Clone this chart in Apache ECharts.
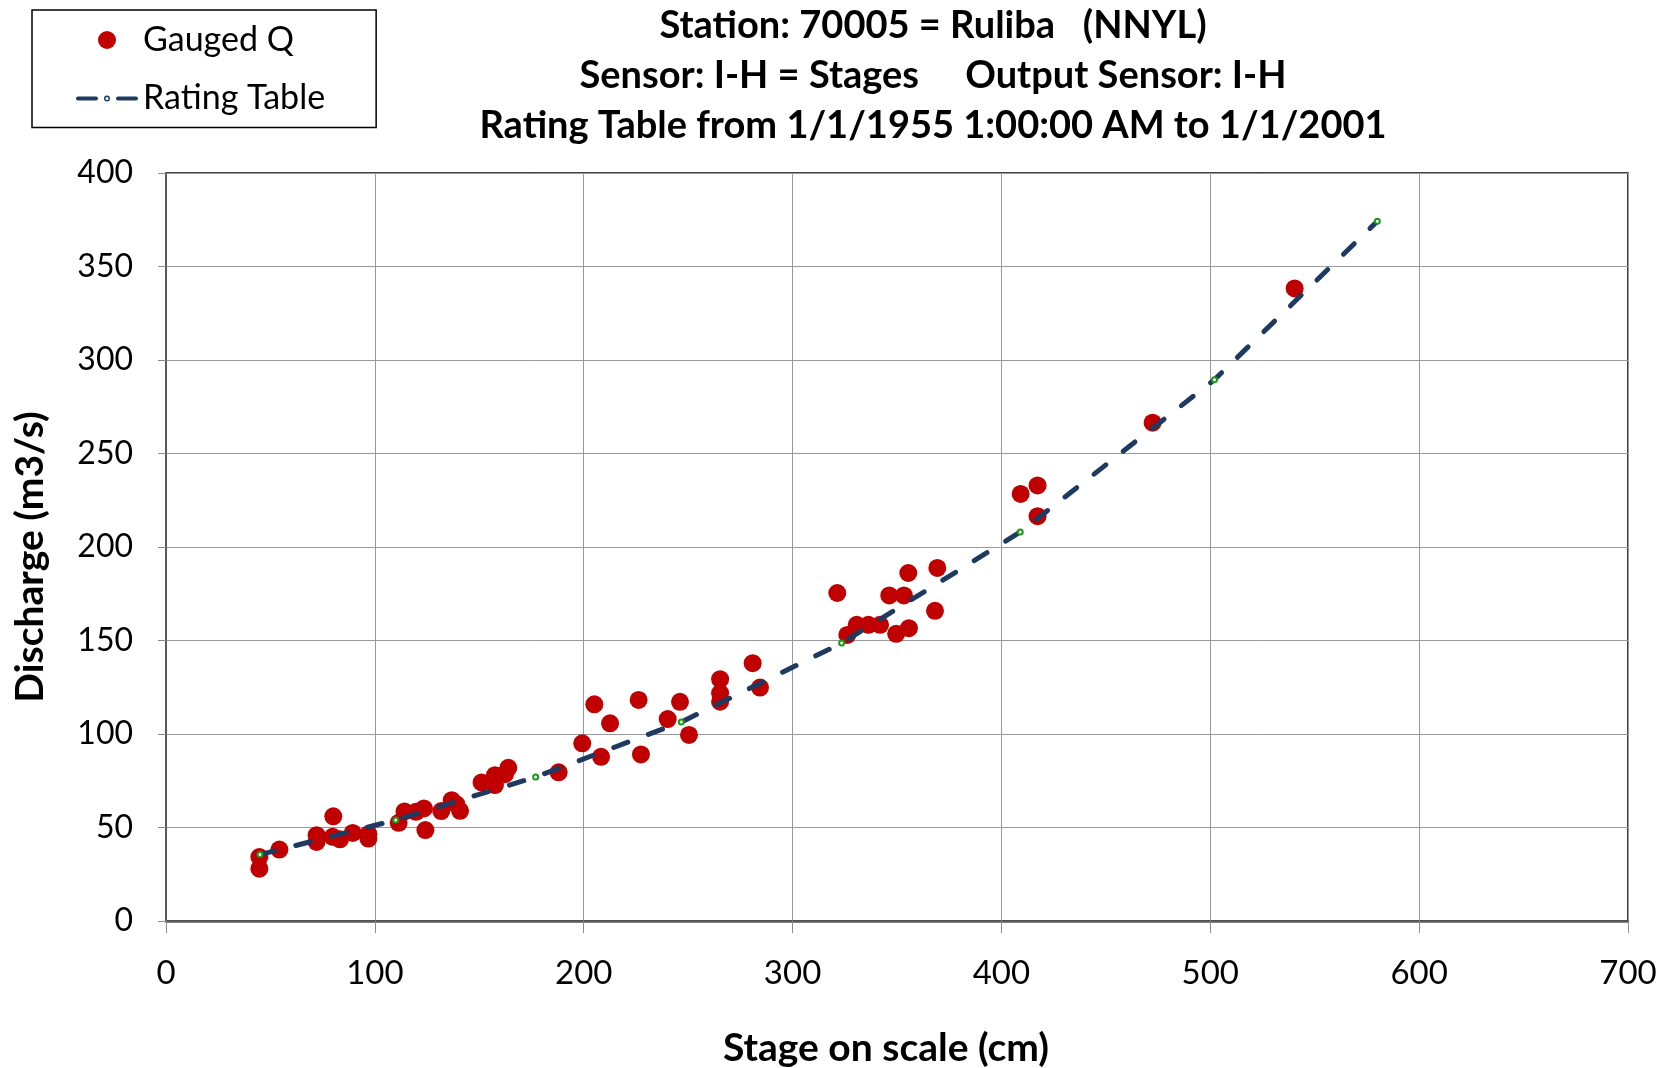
<!DOCTYPE html>
<html>
<head>
<meta charset="utf-8">
<title>Rating curve 70005 Ruliba</title>
<script src="https://cdn.jsdelivr.net/npm/echarts@6/dist/echarts.min.js"></script>
<style>
html, body { margin: 0; padding: 0; background: #fff; }
#main { width: 1663px; height: 1068px; }
</style>
</head>
<body>
<div id="main"></div>
<script>
// gauged discharge measurements (stage cm, discharge m3/s)
var gaugedStage = [44.7, 44.7, 54.3, 72.1, 72.1, 80.1, 79.8, 83.3, 89.4, 96.9, 96.9,
    111.4, 114.2, 119.7, 123.5, 124.2, 131.8, 136.8, 140.8, 139, 151.1, 157.5, 157.5,
    162.3, 163.9, 188, 199.3, 205.1, 208.3, 212.6, 226.3, 227.4, 240.2, 246.1, 250.4,
    265.3, 265.3, 265.3, 280.9, 284.4, 321.4, 326.2, 330.7, 336.3, 341.9, 349.6, 346.3,
    353.3, 355.4, 355.7, 369.3, 368.2, 409.2, 417.3, 417.3, 472.4, 540.4]
var gaugedQ = [34.2, 28, 38.2, 45.9, 42.3, 56, 45, 43.7, 47.1, 46.4, 44.1,
    52.5, 58.6, 58.4, 60.2, 48.6, 58.8, 64.6, 58.9, 62.5, 74.1, 72.7, 78,
    78.5, 81.9, 79.5, 95, 115.9, 87.8, 105.7, 118.2, 89.1, 108, 117.2, 99.5,
    129.3, 121.8, 117.3, 137.9, 124.8, 175.4, 153, 158.4, 158.4, 158.4, 153.6, 174.1,
    174.1, 186.1, 156.6, 188.8, 165.9, 228.4, 232.9, 216.5, 266.5, 338.3]

// rating table points
var ratingStage = [45, 110, 177, 246.7, 323.5, 409, 502, 580]
var ratingQ = [35.5, 54, 77, 106.4, 148.6, 208, 289.5, 374.2]

var titleLines = [
    'Station: 70005 = Ruliba   (NNYL)',
    'Sensor: I-H = Stages     Output Sensor: I-H',
    'Rating Table from 1/1/1955 1:00:00 AM to 1/1/2001'
]

var gaugedData = gaugedStage.map(function (s, i) { return [s, gaugedQ[i]] })
var ratingData = ratingStage.map(function (s, i) { return [s, ratingQ[i]] })

var font = 'Lato'
var navy = '#1F3A60'
// legend icon: dash, small ring, dash
var ratingIcon = 'path://M2,7 L20,7 A2,2 0 0 1 20,11 L2,11 A2,2 0 0 1 2,7 Z ' +
    'M42,7 L60,7 A2,2 0 0 1 60,11 L42,11 A2,2 0 0 1 42,7 Z ' +
    'M31,6 A3,3 0 1 1 31,12 A3,3 0 1 1 31,6 Z M31,7.4 A1.6,1.6 0 1 0 31,10.6 A1.6,1.6 0 1 0 31,7.4 Z'

var chart = echarts.init(document.getElementById('main'))

var option = {
    animation: false,
    backgroundColor: '#fff',
    title: {
        text: titleLines.join('\n'),
        left: 933,
        top: 1,
        padding: 0,
        textAlign: 'center',
        textStyle: {
            fontFamily: font,
            fontWeight: 'bold',
            fontSize: 38,
            lineHeight: 50,
            color: '#000'
        }
    },
    legend: {
        orient: 'vertical',
        left: 32,
        top: 10,
        padding: [13, 51, 12, 44],
        itemGap: 24.5,
        itemWidth: 62,
        itemHeight: 18,
        symbolKeepAspect: true,
        borderColor: '#000',
        borderWidth: 1.5,
        textStyle: { fontFamily: font, fontSize: 34, lineHeight: 30, color: '#000' },
        data: [
            { name: 'Gauged Q', icon: 'circle' },
            { name: 'Rating Table', icon: ratingIcon, itemStyle: { color: navy, borderWidth: 0 } }
        ]
    },
    grid: {
        left: 166,
        right: 35,
        top: 173,
        bottom: 147,
        outerBoundsMode: 'none',
        show: true,
        borderColor: '#000',
        borderWidth: 1.5
    },
    xAxis: {
        type: 'value',
        min: 0,
        max: 700,
        interval: 100,
        name: 'Stage on scale (cm)',
        nameLocation: 'middle',
        nameGap: 108,
        nameTextStyle: { fontFamily: font, fontWeight: 'bold', fontSize: 39, color: '#000', padding: [0, 22, 0, 0] },
        axisLine: { show: true, lineStyle: { color: '#595959', width: 2.5 } },
        axisTick: { show: true, length: 12, lineStyle: { color: '#8c8c8c', width: 1 } },
        axisLabel: { fontFamily: font, fontSize: 33, color: '#000', margin: 36 },
        splitLine: { show: true, lineStyle: { color: '#9a9a9a', width: 1 } }
    },
    yAxis: {
        type: 'value',
        min: 0,
        max: 400,
        interval: 50,
        name: 'Discharge (m3/s)',
        nameLocation: 'middle',
        nameGap: 116,
        nameTextStyle: { fontFamily: font, fontWeight: 'bold', fontSize: 39, color: '#000', padding: [0, 20, 0, 0] },
        axisLine: { show: true, lineStyle: { color: '#595959', width: 2 } },
        axisTick: { show: true, length: 8, lineStyle: { color: '#8c8c8c', width: 1 } },
        axisLabel: { fontFamily: font, fontSize: 32, color: '#000', margin: 33 },
        splitLine: { show: true, lineStyle: { color: '#9a9a9a', width: 1 } }
    },
    series: [
        {
            name: 'Gauged Q',
            type: 'scatter',
            data: gaugedData,
            symbol: 'circle',
            symbolSize: 18,
            itemStyle: { color: '#C00000', opacity: 1 },
            z: 2
        },
        {
            name: 'Rating Table',
            type: 'line',
            data: ratingData,
            symbol: 'emptyCircle',
            symbolSize: 5,
            showSymbol: true,
            itemStyle: { color: '#1a9a1a', borderColor: '#1a9a1a', borderWidth: 1.5 },
            lineStyle: { color: navy, width: 5, type: [15, 22], cap: 'round' },
            z: 3
        }
    ]
}

chart.setOption(option)
</script>
</body>
</html>
